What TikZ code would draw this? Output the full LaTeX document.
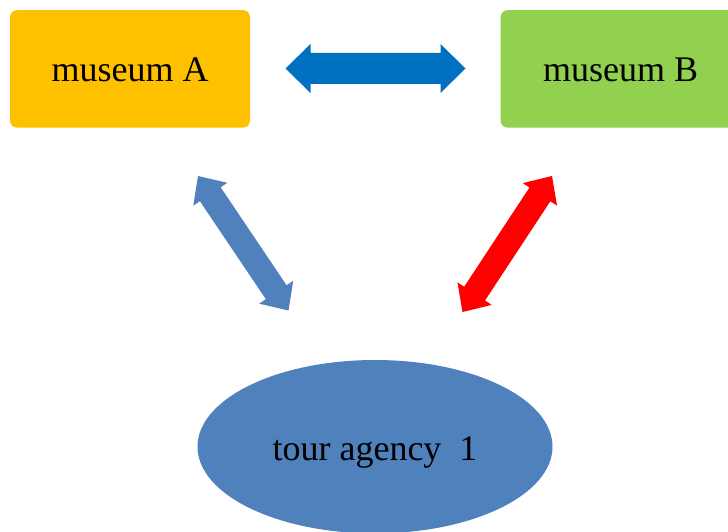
\documentclass[tikz,border=0pt]{standalone}
\usepackage{fontspec}
\setmainfont{Liberation Serif}
\usetikzlibrary{calc,shapes.geometric}

\definecolor{amber}{HTML}{FFC000}
\definecolor{leaf}{HTML}{92D050}
\definecolor{steel}{HTML}{4F81BD}
\definecolor{ocean}{HTML}{0070C0}
\definecolor{signal}{HTML}{FF0000}

% Filled two-headed block arrow between two named points:
% #1 colour, #2 start, #3 end, #4 half shaft width, #5 half head width, #6 head length
\newcommand\twowayarrow[6]{%
  \coordinate (tw-p) at ($(#2)!#6!(#3)$);
  \coordinate (tw-q) at ($(#3)!#6!(#2)$);
  \fill[#1] (#2)
    -- ($(tw-p)!#5!90:(#3)$) -- ($(tw-p)!#4!90:(#3)$)
    -- ($(tw-q)!#4!90:(#3)$) -- ($(tw-q)!#5!90:(#3)$)
    -- (#3)
    -- ($(tw-q)!#5!-90:(#3)$) -- ($(tw-q)!#4!-90:(#3)$)
    -- ($(tw-p)!#4!-90:(#3)$) -- ($(tw-p)!#5!-90:(#3)$)
    -- cycle;
}

\tikzset{
  museum/.style={rectangle, rounded corners=7pt, minimum width=240pt,
    minimum height=117.5pt, inner sep=0pt, text height=25.6pt, text depth=0pt,
    font=\fontsize{36}{36}\selectfont},
  agency/.style={ellipse, minimum width=355pt, minimum height=173.4pt,
    inner sep=0pt, fill=steel, text height=26.6pt, text depth=0pt,
    font=\fontsize{36}{36}\selectfont}
}

\begin{document}
\begin{tikzpicture}[x=1pt, y=-1pt]
  \useasboundingbox (0,0) rectangle (728,532);
  \clip (0,0) rectangle (728,532);

  \node[museum, fill=amber] (museumA) at (130,68.9) {museum A\hspace{4pt}};
  \node[museum, fill=leaf] (museumB) at (620.7,68.9) {museum B\hspace{4pt}};
  \node[agency] (agency) at (375,446.7) {tour agency\ \ 1};

  % arrow end points
  \coordinate (hA) at (285.5,68.5);
  \coordinate (hB) at (465.5,68.5);
  \coordinate (lA) at (198,176);
  \coordinate (lB) at (288.5,310.5);
  \coordinate (rA) at (552,176);
  \coordinate (rB) at (462.5,312);

  \twowayarrow{ocean}{hA}{hB}{15.5pt}{24.5pt}{25pt}
  \twowayarrow{steel}{lA}{lB}{12.5pt}{20.5pt}{22pt}
  \twowayarrow{signal}{rA}{rB}{12.5pt}{20.5pt}{22pt}
\end{tikzpicture}
\end{document}
